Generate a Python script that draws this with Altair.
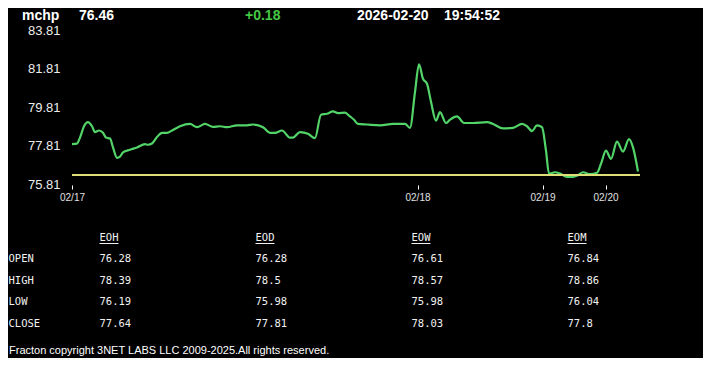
import altair as alt
import pandas as pd

# ---------------- data ----------------
symbol = "mchp"
last_price = "76.46"
change = "+0.18"
date_str = "2026-02-20"
time_str = "19:54:52"

bar_index = [0, 5, 8, 12, 16, 20, 23, 27, 31, 34, 38, 41, 45, 48, 51, 58, 65, 73, 76, 80,
             85, 90, 95, 100, 108, 118, 125, 133, 141, 148, 155, 165, 175, 181, 191, 198,
             203, 210, 218, 221, 228, 236, 243, 249, 255, 261, 266, 273, 278, 282, 286,
             295, 308, 321, 333, 338, 343, 347, 351, 355, 359, 364, 368, 374, 378, 385,
             392, 401, 415, 421, 431, 441, 450, 455, 460, 465, 470, 474, 477, 483, 488,
             495, 501, 506, 511, 518, 525, 529, 534, 539, 545, 551, 557, 561, 566]
price = [77.88, 77.91, 78.22, 78.81, 79.02, 78.81, 78.51, 78.59, 78.47, 78.22, 78.17, 77.71,
         77.17, 77.23, 77.45, 77.59, 77.71, 77.88, 77.85, 77.91, 78.25, 78.47, 78.47, 78.59,
         78.81, 78.93, 78.76, 78.93, 78.78, 78.81, 78.76, 78.86, 78.86, 78.90, 78.76, 78.47,
         78.47, 78.59, 78.22, 78.22, 78.51, 78.42, 78.19, 79.41, 79.46, 79.58, 79.49, 79.52,
         79.32, 79.15, 78.93, 78.90, 78.86, 78.93, 78.93, 78.73, 80.59, 82.03, 81.27, 81.02,
         80.08, 79.10, 79.54, 78.98, 79.15, 79.32, 78.98, 78.98, 79.02, 78.93, 78.70, 78.73,
         78.93, 78.81, 78.56, 78.86, 78.76, 77.54, 76.35, 76.42, 76.35, 76.18, 76.18, 76.27,
         76.42, 76.32, 76.39, 76.86, 77.54, 77.12, 78.01, 77.49, 78.14, 77.71, 76.46]
open_price = 76.28

y_ticks = [75.81, 77.81, 79.81, 81.81, 83.81]
x_tick_pos = [0, 345.5, 470.5, 533.5]
x_tick_labels = ["02/17", "02/18", "02/19", "02/20"]

table_cols = ["EOH", "EOD", "EOW", "EOM"]
row_labels = ["OPEN", "HIGH", "LOW", "CLOSE"]
eoh = [76.28, 78.39, 76.19, 77.64]
eod = [76.28, 78.5, 75.98, 77.81]
eow = [76.61, 78.57, 75.98, 78.03]
eom = [76.84, 78.86, 76.04, 77.8]
footer = "Fracton copyright 3NET LABS LLC 2009-2025.All rights reserved."

# ---------------- layout ----------------
PAD_L, PAD_T = 64, 22
W, H = 568, 154
X_MAX = 568
OY = 8 + PAD_T
def ry(page_y):
    return page_y - OY
def rx(page_x):
    return page_x - (8 + PAD_L)

col_x = [rx(99.5), rx(255.5), rx(411.5), rx(567.5)]
row_label_x = rx(8.5)
header_y = ry(238.3)
row_y = [ry(259.3), ry(280.7), ry(302.3), ry(324.3)]
char_w = 6.33
MONO = "DejaVu Sans Mono"
SANS = "Liberation Sans"

df_line = pd.DataFrame({"t": bar_index, "price": price})

xscale = alt.Scale(domain=[0, X_MAX], nice=False, zero=False)
yscale = alt.Scale(domain=[y_ticks[0], y_ticks[-1]], nice=False, zero=False)

label_expr = "[" + ",".join(f"'{l}'" for l in x_tick_labels) + "][indexof([" + \
    ",".join(str(v) for v in x_tick_pos) + "], datum.value)]"

x_axis = alt.Axis(values=x_tick_pos, labelExpr=label_expr, title=None,
                  grid=False, domain=False, tickSize=4, tickColor="#ffffff",
                  tickWidth=1, labelColor="#e0e0e0", labelFontSize=10,
                  labelFont=SANS, labelPadding=3, offset=1,
                  labelFlush=False, labelOverlap=False)
y_axis = alt.Axis(values=y_ticks, format=".2f", title=None, grid=False,
                  domain=False, ticks=False, labelColor="#ececec",
                  labelFontSize=13, labelFont=SANS, labelPadding=12,
                  labelOverlap=False, labelFlush=False)

line = alt.Chart(df_line).mark_line(
    color="#52d469", strokeWidth=2.2, interpolate="monotone"
).encode(
    x=alt.X("t:Q", scale=xscale, axis=x_axis),
    y=alt.Y("price:Q", scale=yscale, axis=y_axis),
)

df_rule = pd.DataFrame({"price": [open_price], "t0": [0], "t1": [X_MAX]})
rule = alt.Chart(df_rule).mark_rule(
    color="#dede78", strokeWidth=2
).encode(
    y=alt.Y("price:Q", scale=yscale, axis=y_axis),
    x=alt.X("t0:Q", scale=xscale, axis=x_axis),
    x2="t1:Q",
)

# header texts
HEADER_Y = ry(16)
def htext(txt, page_x, color="#ffffff"):
    return alt.Chart(pd.DataFrame({"a": [txt]})).mark_text(
        align="left", baseline="middle", font=SANS, fontSize=14, fontWeight="bold",
        color=color
    ).encode(text="a:N", x=alt.value(rx(page_x)), y=alt.value(HEADER_Y))

header = [htext(symbol, 22), htext(last_price, 79), htext(change, 245, "#45c845"),
          htext(date_str, 357), htext(time_str, 444)]

# table
cells = []
for i, r in enumerate(row_labels):
    cells.append({"txt": r, "px": row_label_x, "py": row_y[i]})
for j, (c, vals) in enumerate(zip(table_cols, [eoh, eod, eow, eom])):
    cells.append({"txt": c, "px": col_x[j], "py": header_y})
    for i, v in enumerate(vals):
        cells.append({"txt": str(v), "px": col_x[j], "py": row_y[i]})
df_cells = pd.DataFrame(cells)

table = alt.Chart(df_cells).mark_text(
    align="left", baseline="middle", font=MONO, fontSize=10.5, color="#f2f2f2"
).encode(
    text="txt:N",
    x=alt.value(0), y=alt.value(0),
)
table = alt.Chart(df_cells).mark_text(
    align="left", baseline="middle", font=MONO, fontSize=10.5, color="#f2f2f2"
).encode(
    text="txt:N",
    x=alt.X("px:Q", scale=None),
    y=alt.Y("py:Q", scale=None),
)

df_ul = pd.DataFrame({
    "x1": col_x,
    "x2": [cx + char_w * len(c) for cx, c in zip(col_x, table_cols)],
    "yy": [header_y + 5.2] * len(table_cols),
})
underline = alt.Chart(df_ul).mark_rule(color="#f2f2f2", strokeWidth=1).encode(
    x=alt.X("x1:Q", scale=None),
    x2="x2:Q",
    y=alt.Y("yy:Q", scale=None),
)

foot = alt.Chart(pd.DataFrame({"a": [footer]})).mark_text(
    align="left", baseline="middle", font=SANS, fontSize=11, color="#ffffff"
).encode(text="a:N", x=alt.value(rx(9)), y=alt.value(ry(351)))

chart = alt.layer(line, rule, table, underline, foot, *header).properties(
    width=W, height=H,
    background="#000000",
    padding={"left": PAD_L, "top": PAD_T, "right": 711 - 16 - PAD_L - W,
             "bottom": 366 - 16 - PAD_T - H},
    autosize=alt.AutoSizeParams(type="none"),
).configure_view(stroke=None).configure_axis(labelOverlap=False)

chart.save("out.html", embed_options={"renderer": "svg", "actions": False})
